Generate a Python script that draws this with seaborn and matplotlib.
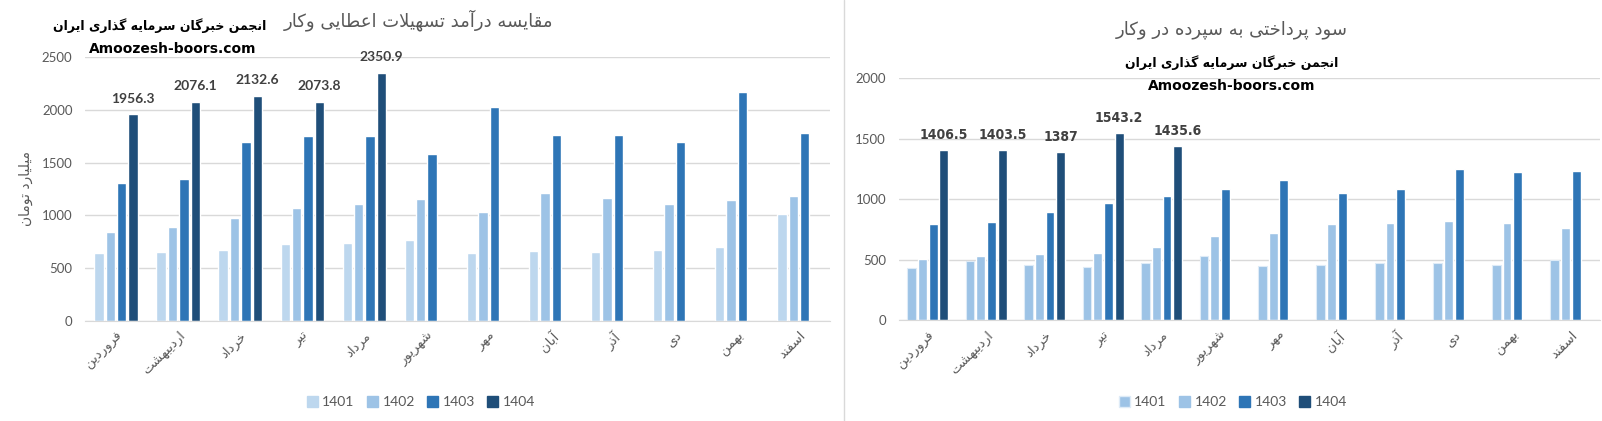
import numpy as np
import pandas as pd
import matplotlib
matplotlib.use("Agg")
import matplotlib.pyplot as plt
import seaborn as sns
from matplotlib.lines import Line2D
from matplotlib.patches import Patch

# --- data ---
months = ["فروردین", "اردیبهشت", "خرداد", "تیر", "مرداد", "شهریور",
          "مهر", "آبان", "آذر", "دی", "بهمن", "اسفند"]
years = ["1401", "1402", "1403", "1404"]

# left: loan income (billion toman)
income_1401 = [645, 654, 673, 730, 739, 767, 645, 663, 652, 671, 699, 1011]
income_1402 = [843, 890, 975, 1069, 1107, 1154, 1031, 1210, 1162, 1106, 1143, 1181]
income_1403 = [1305, 1343, 1692, 1748, 1748, 1579, 2022, 1758, 1757, 1691, 2173, 1776]
income_1404 = [1956.3, 2076.1, 2132.6, 2073.8, 2350.9] + [np.nan] * 7

# right: interest paid on deposits
deposit_1401 = [432, 493, 457, 440, 473, 531, 449, 457, 473, 473, 457, 498]
deposit_1402 = [506, 531, 548, 556, 606, 696, 721, 795, 804, 820, 804, 762]
deposit_1403 = [795, 812, 895, 969, 1027, 1084, 1159, 1051, 1084, 1250, 1225, 1233]
deposit_1404 = [1406.5, 1403.5, 1387, 1543.2, 1435.6] + [np.nan] * 7

title_left = "مقایسه درآمد تسهیلات اعطایی وکار"
title_right = "سود پرداختی به سپرده در وکار"
org_name = "انجمن خبرگان سرمایه گذاری ایران"
site = "Amoozesh-boors.com"
ylabel_left = "میلیارد تومان"

colors_left = ["#BDD7EE", "#9DC3E6", "#2E75B6", "#1F4E79"]
colors_right = ["#9DC3E6", "#9DC3E6", "#2E75B6", "#1F4E79"]

# --- minimal Persian shaping (matplotlib has no bidi / joining) ---
FORMS = {  # isolated, final, initial, medial
    "ا": ("\uFE8D", "\uFE8E"), "آ": ("\uFE81", "\uFE82"),
    "د": ("\uFEA9", "\uFEAA"), "ذ": ("\uFEAB", "\uFEAC"),
    "ر": ("\uFEAD", "\uFEAE"), "ز": ("\uFEAF", "\uFEB0"),
    "و": ("\uFEED", "\uFEEE"),
    "ب": ("\uFE8F", "\uFE90", "\uFE91", "\uFE92"),
    "ت": ("\uFE95", "\uFE96", "\uFE97", "\uFE98"),
    "ج": ("\uFE9D", "\uFE9E", "\uFE9F", "\uFEA0"),
    "خ": ("\uFEA5", "\uFEA6", "\uFEA7", "\uFEA8"),
    "س": ("\uFEB1", "\uFEB2", "\uFEB3", "\uFEB4"),
    "ش": ("\uFEB5", "\uFEB6", "\uFEB7", "\uFEB8"),
    "ط": ("\uFEC1", "\uFEC2", "\uFEC3", "\uFEC4"),
    "ع": ("\uFEC9", "\uFECA", "\uFECB", "\uFECC"),
    "ف": ("\uFED1", "\uFED2", "\uFED3", "\uFED4"),
    "ق": ("\uFED5", "\uFED6", "\uFED7", "\uFED8"),
    "ل": ("\uFEDD", "\uFEDE", "\uFEDF", "\uFEE0"),
    "م": ("\uFEE1", "\uFEE2", "\uFEE3", "\uFEE4"),
    "ن": ("\uFEE5", "\uFEE6", "\uFEE7", "\uFEE8"),
    "ه": ("\uFEE9", "\uFEEA", "\uFEEB", "\uFEEC"),
    "پ": ("\uFB56", "\uFB57", "\uFB58", "\uFB59"),
    "ک": ("\uFB8E", "\uFB8F", "\uFB90", "\uFB91"),
    "گ": ("\uFB92", "\uFB93", "\uFB94", "\uFB95"),
    "ی": ("\uFBFC", "\uFBFD", "\uFBFE", "\uFBFF"),
}
LAM_ALEF = {"ا": ("\uFEFB", "\uFEFC"), "آ": ("\uFEF5", "\uFEF6")}


def fa(text):
    out = []
    i = 0
    while i < len(text):
        ch = text[i]
        if ch not in FORMS:
            out.append(ch)
            i += 1
            continue
        prev = i > 0 and text[i - 1] in FORMS and len(FORMS[text[i - 1]]) == 4
        if ch == "ل" and i + 1 < len(text) and text[i + 1] in LAM_ALEF:
            out.append(LAM_ALEF[text[i + 1]][1 if prev else 0])
            i += 2
            continue
        f = FORMS[ch]
        nxt = len(f) == 4 and i + 1 < len(text) and text[i + 1] in FORMS
        if prev and nxt:
            out.append(f[3])
        elif prev:
            out.append(f[1])
        elif nxt:
            out.append(f[2])
        else:
            out.append(f[0])
        i += 1
    return "".join(out)[::-1]


sns.set_style("white")
plt.rcParams["font.family"] = ["Lato", "DejaVu Sans"]

W, H = 1602, 421
fig = plt.figure(figsize=(W / 100, H / 100), dpi=100)

ax_l = fig.add_axes([85 / W, 100 / H, 745 / W, 264 / H])
ax_r = fig.add_axes([898.5 / W, 100.7 / H, 701.5 / W, 242.3 / H])


def long_frame(series):
    rows = []
    for yr, vals in zip(years, series):
        for m, v in zip(months, vals):
            rows.append({"month": fa(m), "year": yr, "value": v})
    return pd.DataFrame(rows)


df_l = long_frame([income_1401, income_1402, income_1403, income_1404])
df_r = long_frame([deposit_1401, deposit_1402, deposit_1403, deposit_1404])

grey = "#595959"

for ax, df, cols, top, lab4, lab_kw in [
    (ax_l, df_l, colors_left, 2500, income_1404,
     dict(fontsize=10, family=["Lato", "DejaVu Sans"], padding=7)),
    (ax_r, df_r, colors_right, 2000, deposit_1404,
     dict(fontsize=10, family=["DejaVu Sans"], fontstretch="condensed", padding=6)),
]:
    sns.barplot(data=df, x="month", y="value", hue="year", hue_order=years,
                palette=cols, width=0.735, gap=0.18, saturation=1,
                legend=False, ax=ax, errorbar=None)
    ax.set_xlim(-0.5, 11.5)
    ax.set_ylim(0, top)
    ax.set_yticks(np.arange(0, top + 1, 500))
    ax.yaxis.grid(True, color="#D9D9D9", linewidth=1)
    ax.set_axisbelow(True)
    for s in ["top", "right", "left"]:
        ax.spines[s].set_visible(False)
    ax.spines["bottom"].set_color("#D9D9D9")
    ax.tick_params(axis="y", length=0, colors=grey, labelsize=9.5, pad=9)
    ax.tick_params(axis="x", length=0, colors=grey, labelsize=9.5, pad=6)
    ax.set_xlabel("")
    ax.set_ylabel("")
    plt.setp(ax.get_xticklabels(), rotation=45, ha="right",
             rotation_mode="anchor", fontsize=9.5, family=["DejaVu Sans"])
    labels = [f"{v:g}" for v in lab4 if not np.isnan(v)]
    ax.bar_label(ax.containers[3], labels=labels, fontweight="bold",
                 color="#404040", **lab_kw)

ax_l.set_ylabel(fa(ylabel_left), color=grey, fontsize=10, family=["DejaVu Sans"])
ax_l.yaxis.set_label_coords(-0.07, 0.5)

# right panel: light edge on the 1401 bars
for p in ax_r.containers[0]:
    p.set_edgecolor("#DEEBF7")
    p.set_linewidth(0.8)

# titles and watermark texts
fig.text(553 / W, 1 - 20 / H, fa(title_left), ha="right", va="center",
         fontsize=13, color=grey, family=["DejaVu Sans"])
fig.text(266 / W, 1 - 26 / H, fa(org_name), ha="right", va="center",
         fontsize=9, fontweight="bold", color="black", family=["DejaVu Sans"])
fig.text(89 / W, 1 - 49 / H, site, ha="left", va="center",
         fontsize=10, fontweight="bold", color="black", family=["DejaVu Sans"])

fig.text(1232 / W, 1 - 30 / H, fa(title_right), ha="center", va="center",
         fontsize=13, color=grey, family=["DejaVu Sans"])
fig.text(1232 / W, 1 - 63 / H, fa(org_name), ha="center", va="center",
         fontsize=9, fontweight="bold", color="black", family=["DejaVu Sans"])
fig.text(1232 / W, 1 - 86 / H, site, ha="center", va="center",
         fontsize=10, fontweight="bold", color="black", family=["DejaVu Sans"])

# legends
for cols, cx, edge in [(colors_left, 421, None), (colors_right, 1233, "#DEEBF7")]:
    handles = [Patch(facecolor=c, edgecolor=(edge if (i == 0 and edge) else c))
               for i, c in enumerate(cols)]
    fig.legend(handles, years, loc="center", bbox_to_anchor=(cx / W, 1 - 402 / H),
               ncol=4, frameon=False, fontsize=10, labelcolor=grey,
               handlelength=0.8, handleheight=0.8, handletextpad=0.3,
               columnspacing=0.9)

# panel separator
fig.add_artist(Line2D([844 / W, 844 / W], [0.0, 1.0], color="#D9D9D9",
                      linewidth=1, transform=fig.transFigure))

fig.savefig("out.png", dpi=100, facecolor="white")
